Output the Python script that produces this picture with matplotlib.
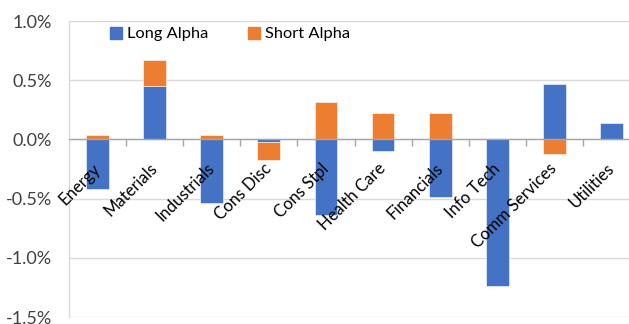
import matplotlib
matplotlib.use("Agg")
import matplotlib.pyplot as plt
import numpy as np
from matplotlib.transforms import offset_copy
from matplotlib.patches import Patch

categories = ["Energy", "Materials", "Industrials", "Cons Disc", "Cons Stpl",
              "Health Care", "Financials", "Info Tech", "Comm Services", "Utilities"]
long_alpha = [-0.42, 0.45, -0.54, -0.02, -0.64, -0.10, -0.49, -1.24, 0.47, 0.14]
short_alpha = [0.04, 0.22, 0.04, -0.15, 0.32, 0.22, 0.22, 0.0, -0.12, 0.0]
y_ticks = [-1.5, -1.0, -0.5, 0.0, 0.5, 1.0]

BLUE = "#4472C4"
ORANGE = "#ED7D31"
FONT = "Lato"

plt.rcParams["font.family"] = [FONT, "DejaVu Sans"]

fig = plt.figure(figsize=(6.29, 3.24), dpi=100)
W, H = 629, 324
left, right, top, bottom = 69, 640, 21, 317
ax = fig.add_axes([left / W, (H - bottom) / H, (right - left) / W, (bottom - top) / H])

x = np.arange(len(categories))
la = np.array(long_alpha)
sa = np.array(short_alpha)
# Excel-style stacking: positives on positives, negatives on negatives
long_bottom = np.zeros_like(la)
short_bottom = np.where(np.sign(sa) == np.sign(la), la, 0.0)

width = 0.4
ax.bar(x, la, width, bottom=long_bottom, color=BLUE, edgecolor="white",
       linewidth=0.4, zorder=2, label="Long Alpha")
ax.bar(x, sa, width, bottom=short_bottom, color=ORANGE, edgecolor="white",
       linewidth=0.4, zorder=2, label="Short Alpha")

ax.set_xlim(-0.5, len(categories) - 0.5)
ax.set_ylim(-1.5, 1.0)
ax.set_yticks(y_ticks)
ax.set_yticklabels([f"{v:.1f}%" for v in y_ticks], fontsize=13, color="#404040")
ax.tick_params(axis="y", length=0, pad=12)
ax.grid(axis="y", color="#D9D9D9", linewidth=1.0, zorder=0)
ax.set_axisbelow(True)

for s in ["top", "right"]:
    ax.spines[s].set_visible(False)
ax.spines["left"].set_color("#D9D9D9")
ax.spines["left"].set_linewidth(1.0)
ax.spines["bottom"].set_position(("data", 0))
ax.spines["bottom"].set_color("#A6A6A6")
ax.spines["bottom"].set_linewidth(1.0)
ax.spines["bottom"].set_zorder(3)

ax.set_xticks(np.arange(0.5, len(categories) - 0.5, 1.0))
ax.set_xticklabels([])
ax.tick_params(axis="x", length=5, width=1.0, color="#A6A6A6", direction="out")

trans = offset_copy(ax.transData, fig=fig, x=-4, y=-15, units="points")
for i, name in enumerate(categories):
    ax.text(i, 0, name, transform=trans, rotation=45, ha="right", va="top",
            rotation_mode="anchor", fontsize=12, color="#000000", zorder=4)

handles = [Patch(color=BLUE, label="Long Alpha"), Patch(color=ORANGE, label="Short Alpha")]
fig.legend(handles=handles, loc="center", bbox_to_anchor=(230 / W, 1 - 34 / H),
           ncol=2, frameon=False, fontsize=11.8, handlelength=0.75, handleheight=0.75,
           handletextpad=0.3, columnspacing=2.4, borderpad=0)

fig.savefig("out.png", dpi=100)
